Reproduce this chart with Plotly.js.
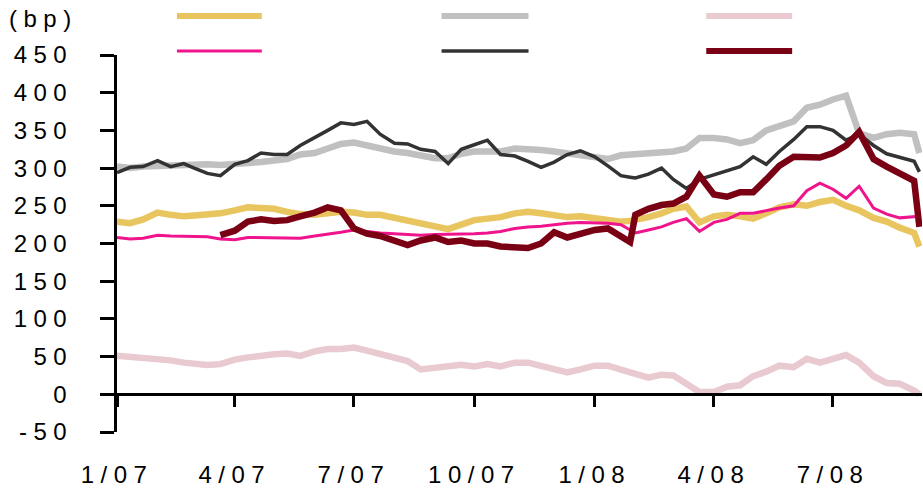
<!DOCTYPE html>
<html>
<head>
<meta charset="utf-8">
<script src="https://cdn.plot.ly/plotly-3.0.1.min.js"></script>
<style>
  html, body { margin: 0; padding: 0; background: #fff; }
  #chart { width: 923px; height: 492px; }
  .xtick text, .ytick text, .annotation-text { letter-spacing: 6.5px; }
</style>
</head>
<body>
<div id="chart"></div>
<script>
const dates = [
  "2007-01-01","2007-01-11","2007-01-21",
  "2007-02-01","2007-02-11","2007-02-21",
  "2007-03-01","2007-03-11","2007-03-21",
  "2007-04-01","2007-04-11","2007-04-21",
  "2007-05-01","2007-05-11","2007-05-21",
  "2007-06-01","2007-06-11","2007-06-21",
  "2007-07-01","2007-07-11","2007-07-21",
  "2007-08-01","2007-08-11","2007-08-21",
  "2007-09-01","2007-09-11","2007-09-21",
  "2007-10-01","2007-10-11","2007-10-21",
  "2007-11-01","2007-11-11","2007-11-21",
  "2007-12-01","2007-12-11","2007-12-21",
  "2008-01-01","2008-01-11","2008-01-21","2008-01-28",
  "2008-02-01","2008-02-11","2008-02-21",
  "2008-03-01","2008-03-11","2008-03-21",
  "2008-04-01","2008-04-11","2008-04-21",
  "2008-05-01","2008-05-11","2008-05-21",
  "2008-06-01","2008-06-11","2008-06-21",
  "2008-07-01","2008-07-11","2008-07-21",
  "2008-08-01","2008-08-11","2008-08-21",
  "2008-09-01","2008-09-05"
];

const seriesYellow = [
  229,227,232, 241,238,236, 237,238,240, 244,248,247, 246,242,239, 238,240,242,
  241,238,238, 234,230,226, 221,219,225, 231,233,235, 240,242,240, 238,235,236,
  233,231,229,230, 231,235,240, 246,249,228, 236,238,236, 233,240,248,
  252,250,255, 258,250,244, 234,229,221, 214,196
];
const seriesGrey = [
  302,300,302, 303,302,304, 305,305,304, 305,306,308, 310,312,318, 320,326,332,
  334,330,327, 322,320,316, 313,313,319, 322,322,322, 326,326,324, 322,320,317,
  315,312,317,318, 319,320,321, 322,326,340, 340,338,333, 337,350,355,
  362,380,384, 391,396,346, 340,345,347, 345,320
];
const seriesLightPink = [
  51,50,48, 48,45,42, 40,39,40, 46,49,52, 53,54,51, 57,60,60,
  62,58,53, 48,44,33, 35,37,39, 37,40,37, 42,42,38, 35,29,33,
  38,38,32,28, 27,22,26, 25,14,3, 3,10,12, 24,30,38,
  36,47,42, 48,52,42, 24,15,14, 5,0
];
const seriesMagenta = [
  208,206,207, 211,210,210, 210,209,206, 205,208,208, 208,208,207, 210,212,215,
  218,216,214, 213,212,211, 212,212,212, 213,214,216, 220,222,223, 225,227,228,
  227,227,225,218, 214,218,222, 228,233,216, 228,232,240, 240,244,247,
  250,270,280, 272,260,276, 247,239,234, 235,236
];
const seriesDark = [
  294,301,302, 310,302,306, 300,293,290, 305,310,320, 318,318,330, 340,350,360,
  358,362,345, 333,332,325, 322,306,325, 331,337,318, 316,309,301, 308,318,323,
  315,303,290,288, 287,292,300, 285,273,285, 291,296,302, 315,305,322,
  338,355,355, 350,337,345, 330,319,314, 309,295
];
const seriesMaroon = [
  null,null,null, null,null,null, null,null,211, 217,229,232, 230,231,236, 241,248,244,
  220,213,210, 203,198,204, 208,202,204, 200,200,196, 195,194,200, 215,208,213,
  218,220,210,202, 238,246,251, 253,262,290, 265,262,268, 268,285,303,
  315,315,314, 320,330,348, 312,302,294, 283,222
];

const xTickVals = ["2007-01-01","2007-04-01","2007-07-01","2007-10-01","2008-01-01","2008-04-01","2008-07-01"];
const xTickText = ["1/07","4/07","7/07","10/07","1/08","4/08","7/08"];
const yTickVals = [-50,0,50,100,150,200,250,300,350,400,450];
const yTickText = ["-50","0","50","100","150","200","250","300","350","400","450"];

const colors = {
  yellow: "#E8C55E", grey: "#C0C0C0", lightpink: "#E8CAD0",
  magenta: "#F0148C", dark: "#333333", maroon: "#7A0014"
};

function line(y, color, width) {
  return { x: dates, y: y, type: "scatter", mode: "lines",
           line: { color: color, width: width }, showlegend: false,
           connectgaps: false, hoverinfo: "skip" };
}

const traces = [
  line(seriesLightPink, colors.lightpink, 6.5),
  line(seriesGrey, colors.grey, 6.5),
  line(seriesYellow, colors.yellow, 6.5),
  line(seriesMagenta, colors.magenta, 3),
  line(seriesDark, colors.dark, 3.5),
  line(seriesMaroon, colors.maroon, 6.5)
];

// legend swatches (no labels in the reference)
function sw(x0, x1, y, color, w) {
  return { type: "line", xref: "paper", yref: "paper", x0: x0, x1: x1, y0: y, y1: y,
           line: { color: color, width: w } };
}
const r1 = 1.1034, r2 = 1.0106;
const shapes = [
  sw(0.0744, 0.1799, r1, colors.yellow, 6),
  sw(0.4032, 0.5112, r1, colors.grey, 6),
  sw(0.7320, 0.8387, r1, colors.lightpink, 6),
  sw(0.0744, 0.1799, r2, colors.magenta, 3),
  sw(0.4032, 0.5112, r2, colors.dark, 3.5),
  sw(0.7320, 0.8387, r2, colors.maroon, 6)
];

const font = { family: "Liberation Sans, Arial, sans-serif", size: 24, color: "#000" };

const layout = {
  width: 923, height: 492,
  margin: { l: 117, r: 1, t: 55, b: 60 },
  paper_bgcolor: "#fff", plot_bgcolor: "#fff",
  font: font,
  xaxis: {
    type: "date",
    range: ["2007-01-01", "2008-09-07"],
    anchor: "free", position: 0.1,
    showgrid: false, zeroline: false,
    showline: true, linecolor: "#000", linewidth: 3,
    ticks: "outside", ticklen: 11, tickwidth: 3, tickcolor: "#000",
    tickvals: xTickVals, ticktext: xTickText,
    ticklabelstandoff: 47,
    tickfont: font
  },
  yaxis: {
    range: [-50, 450],
    showgrid: false, zeroline: false,
    showline: true, linecolor: "#000", linewidth: 3,
    ticks: "outside", ticklen: 14, tickwidth: 3, tickcolor: "#000",
    tickvals: yTickVals, ticktext: yTickText,
    ticklabelstandoff: 22,
    tickfont: font
  },
  shapes: shapes,
  annotations: [{
    text: "(bp)", xref: "paper", yref: "paper",
    x: -0.137, y: 1.098, xanchor: "left", yanchor: "middle",
    showarrow: false, font: font
  }]
};

Plotly.newPlot("chart", traces, layout, { staticPlot: true, displayModeBar: false });
</script>
</body>
</html>
